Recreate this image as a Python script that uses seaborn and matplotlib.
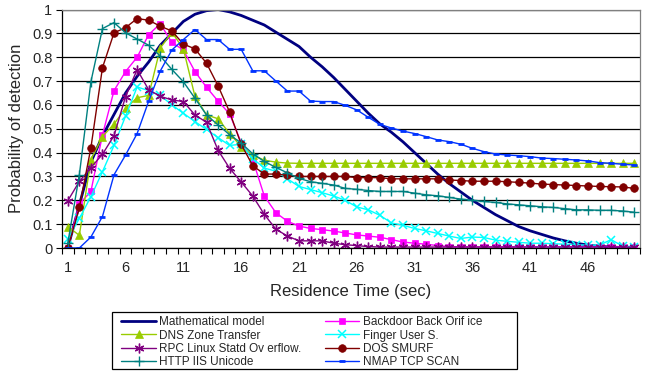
import numpy as np
import pandas as pd
import matplotlib
matplotlib.use("Agg")
import matplotlib.pyplot as plt
from matplotlib.patches import Rectangle
import seaborn as sns

cats = list(range(1, 51))
tick_labels = [str(c) for c in range(1, 47, 5)]

math_model = [0.0, 0.18, 0.36, 0.47, 0.56, 0.65, 0.72, 0.78, 0.85, 0.90,
              0.95, 0.98, 0.995, 1.0, 0.99, 0.975, 0.955, 0.935, 0.905, 0.875,
              0.845, 0.80, 0.76, 0.715, 0.665, 0.615, 0.565, 0.52, 0.485, 0.445,
              0.40, 0.355, 0.31, 0.27, 0.235, 0.20, 0.17, 0.14, 0.115, 0.09,
              0.072, 0.057, 0.042, 0.03, 0.02, 0.012, 0.007, 0.004, 0.002, 0.001]
backdoor = [0.0, 0.185, 0.237, 0.474, 0.66, 0.74, 0.80, 0.895, 0.94, 0.862,
            0.83, 0.74, 0.674, 0.616, 0.562, 0.442, 0.37, 0.218, 0.148, 0.112,
            0.092, 0.082, 0.077, 0.071, 0.063, 0.055, 0.05, 0.045, 0.035, 0.025,
            0.02, 0.016, 0.01, 0.006, 0.005, 0.005, 0.005, 0.005, 0.005, 0.005,
            0.005, 0.005, 0.005, 0.005, 0.005, 0.005, 0.005, 0.005, 0.005, 0.005]
dns = [0.09, 0.053, 0.37, 0.467, 0.52, 0.586, 0.63, 0.64, 0.838, 0.905,
       0.835, 0.636, 0.558, 0.542, 0.48, 0.425, 0.39, 0.368, 0.36, 0.356,
       0.355, 0.355, 0.355, 0.355, 0.355, 0.355, 0.355, 0.355, 0.355, 0.355,
       0.355, 0.355, 0.355, 0.355, 0.355, 0.355, 0.355, 0.355, 0.355, 0.355,
       0.355, 0.355, 0.355, 0.355, 0.355, 0.355, 0.355, 0.355, 0.355, 0.355]
finger = [0.037, 0.124, 0.215, 0.32, 0.43, 0.553, 0.675, 0.66, 0.64, 0.60,
          0.565, 0.53, 0.497, 0.463, 0.43, 0.435, 0.375, 0.335, 0.322, 0.29,
          0.258, 0.245, 0.232, 0.218, 0.20, 0.172, 0.16, 0.137, 0.105, 0.095,
          0.082, 0.072, 0.061, 0.05, 0.04, 0.046, 0.044, 0.033, 0.028, 0.024,
          0.02, 0.02, 0.018, 0.016, 0.014, 0.012, 0.012, 0.035, 0.008, 0.006]
rpc = [0.198, 0.279, 0.337, 0.393, 0.471, 0.635, 0.748, 0.663, 0.636, 0.621,
       0.614, 0.558, 0.527, 0.41, 0.334, 0.277, 0.218, 0.141, 0.079, 0.05,
       0.03, 0.03, 0.03, 0.02, 0.014, 0.01, 0.006, 0.004, 0.004, 0.004,
       0.004, 0.004, 0.004, 0.004, 0.004, 0.004, 0.004, 0.004, 0.004, 0.004,
       0.004, 0.004, 0.004, 0.004, 0.004, 0.004, 0.004, 0.004, 0.004, 0.004]
dos = [0.0, 0.17, 0.42, 0.756, 0.902, 0.924, 0.962, 0.955, 0.93, 0.91,
       0.855, 0.835, 0.775, 0.68, 0.57, 0.435, 0.345, 0.31, 0.31, 0.305,
       0.30, 0.30, 0.30, 0.30, 0.30, 0.295, 0.295, 0.295, 0.29, 0.29,
       0.29, 0.29, 0.29, 0.285, 0.283, 0.28, 0.28, 0.28, 0.278, 0.275,
       0.272, 0.268, 0.266, 0.264, 0.262, 0.26, 0.258, 0.257, 0.256, 0.25]
http = [0.02, 0.307, 0.697, 0.92, 0.945, 0.902, 0.876, 0.85, 0.805, 0.749,
        0.697, 0.628, 0.558, 0.516, 0.475, 0.44, 0.395, 0.363, 0.338, 0.315,
        0.292, 0.278, 0.271, 0.264, 0.25, 0.246, 0.241, 0.237, 0.237, 0.237,
        0.23, 0.223, 0.219, 0.212, 0.205, 0.2, 0.195, 0.191, 0.185, 0.181,
        0.177, 0.173, 0.17, 0.165, 0.16, 0.16, 0.158, 0.158, 0.155, 0.15]
nmap = [0.0, 0.0, 0.046, 0.132, 0.307, 0.39, 0.48, 0.616, 0.742, 0.83,
        0.874, 0.916, 0.874, 0.874, 0.833, 0.833, 0.743, 0.743, 0.70, 0.658,
        0.658, 0.616, 0.614, 0.614, 0.598, 0.579, 0.548, 0.518, 0.503, 0.49,
        0.48, 0.467, 0.453, 0.446, 0.435, 0.418, 0.404, 0.394, 0.39, 0.387,
        0.383, 0.377, 0.375, 0.372, 0.369, 0.365, 0.358, 0.355, 0.351, 0.348]

series_names = ["Mathematical model", "Backdoor Back Orifice", "DNS Zone Transfer",
                "Finger User S.", "RPC Linux Statd Ov erflow.", "DOS SMURF",
                "HTTP IIS Unicode", "NMAP TCP SCAN"]
series_values = [math_model, backdoor, dns, finger, rpc, dos, http, nmap]

styles = {
    "Mathematical model": dict(color="#000080", marker=None, lw=2.0, ms=0, mew=0),
    "Backdoor Back Orifice": dict(color="#FF00FF", marker="s", lw=1.0, ms=5, mew=0.5),
    "DNS Zone Transfer": dict(color="#99CC00", marker="^", lw=1.0, ms=6, mew=0.5),
    "Finger User S.": dict(color="#00FFFF", marker="x", lw=1.0, ms=5.5, mew=1.1),
    "RPC Linux Statd Ov erflow.": dict(color="#800080", marker=(6, 2, 0), lw=1.0, ms=7, mew=1.0),
    "DOS SMURF": dict(color="#800000", marker="o", lw=1.0, ms=5.5, mew=0.5),
    "HTTP IIS Unicode": dict(color="#008080", marker="+", lw=1.0, ms=6.5, mew=1.0),
    "NMAP TCP SCAN": dict(color="#0033FF", marker="_", lw=1.0, ms=4, mew=2.0),
}

df = pd.DataFrame({
    "time": np.tile(cats, len(series_names)),
    "prob": np.concatenate(series_values),
    "series": np.repeat(series_names, len(cats)),
})

sns.set_style("white")
plt.rcParams["font.family"] = ["Liberation Sans", "DejaVu Sans"]

W, H = 647, 373
fig = plt.figure(figsize=(W / 100, H / 100), dpi=100)
ax = fig.add_axes([62 / W, 1 - 248 / H, 578 / W, (248 - 9.5) / H])

handles = {}
for name in series_names:
    st = styles[name]
    sub = df[df["series"] == name]
    kw = dict(color=st["color"], linewidth=st["lw"])
    if st["marker"] is not None:
        kw.update(marker=st["marker"], markersize=st["ms"],
                  markeredgecolor=st["color"], markerfacecolor=st["color"],
                  markeredgewidth=st["mew"])
    sns.lineplot(data=sub, x="time", y="prob", ax=ax, errorbar=None,
                 legend=False, **kw)
    handles[name] = ax.lines[-1]

ax.set_xlim(0.5, 50.5)
ax.set_ylim(0, 1)
ax.set_yticks(np.arange(0, 1.01, 0.1))
ax.set_yticklabels(["0"] + [f"{v:.1f}" for v in np.arange(0.1, 0.95, 0.1)] + ["1"])
ax.set_xticks([int(t) for t in tick_labels])
ax.set_xticklabels(tick_labels)
ax.set_xticks(np.arange(0.5, 51, 1), minor=True)
ax.tick_params(axis="x", which="major", length=0, pad=9, labelsize=10.5)
ax.tick_params(axis="x", which="minor", length=4, width=0.8, color="black", direction="out", bottom=True)
ax.tick_params(axis="y", length=4, width=0.8, color="black", direction="out", left=True, pad=3, labelsize=10.5)
ax.grid(axis="y", color="black", linewidth=0.9)
ax.grid(axis="x", visible=False)
ax.set_axisbelow(True)
for s in ["left", "bottom"]:
    ax.spines[s].set_color("black")
    ax.spines[s].set_linewidth(0.9)
for s in ["top", "right"]:
    ax.spines[s].set_color("#808080")
    ax.spines[s].set_linewidth(0.9)
ax.set_xlabel("Residence Time (sec)", fontsize=12, labelpad=7)
ax.set_ylabel("Probability of detection", fontsize=12, labelpad=6)

order = ["Mathematical model", "DNS Zone Transfer", "RPC Linux Statd Ov erflow.",
         "HTTP IIS Unicode", "Backdoor Back Orifice", "Finger User S.",
         "DOS SMURF", "NMAP TCP SCAN"]
leg_labels = {n: n for n in order}
leg_labels["Backdoor Back Orifice"] = "Backdoor Back Orif ice"
leg = fig.legend([handles[n] for n in order], [leg_labels[n] for n in order],
                 ncol=2, loc="upper left", bbox_to_anchor=(112 / W, 1 - 307 / H),
                 fontsize=8.5, frameon=False,
                 handlelength=2.9, handletextpad=0.3, columnspacing=2.0,
                 labelspacing=0.1, borderpad=0.3, numpoints=1)
frame = Rectangle((112 / W, 1 - 369 / H), (517 - 112) / W, (369 - 312) / H,
                  transform=fig.transFigure, fill=False, edgecolor="black",
                  linewidth=0.9)
fig.add_artist(frame)

fig.savefig("out.png", dpi=100)
